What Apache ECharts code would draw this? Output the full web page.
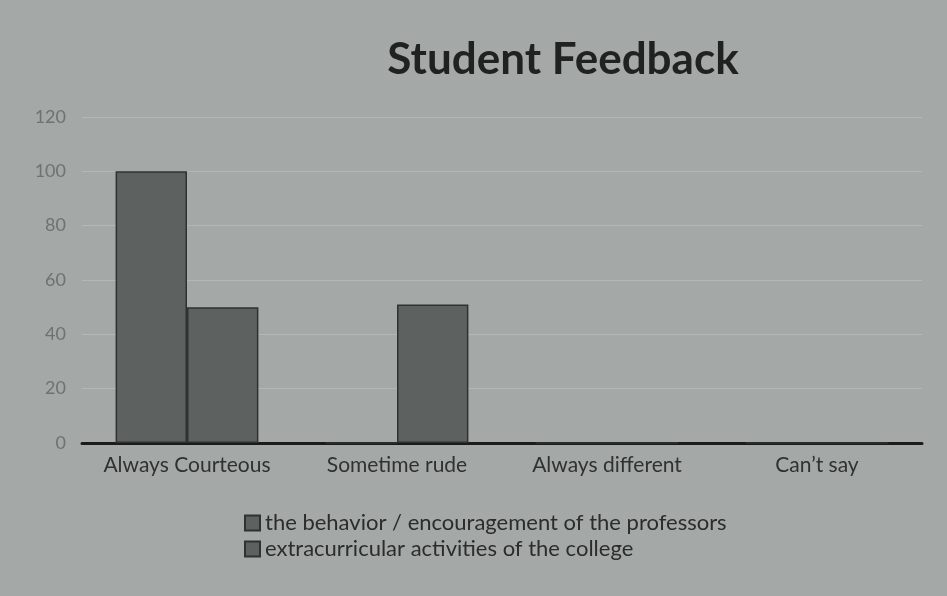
<!DOCTYPE html>
<html><head><meta charset="utf-8">
<script src="https://cdn.jsdelivr.net/npm/echarts@6/dist/echarts.min.js"></script>
<style>html,body{margin:0;padding:0;background:#a2a6a5}#c{width:947px;height:596px}</style>
</head><body><div id="c"></div>
<script>
const categories = ["Always Courteous", "Sometime rude", "Always different", "Can\u2019t say"];
const seriesNames = ["the behavior / encouragement of the professors", "extracurricular activities of the college"];
const professors = [100, 0, 0, 0];
const extracurricular = [50, 51, 0, 0];
const yTicks = [0, 20, 40, 60, 80, 100, 120];

const chart = echarts.init(document.getElementById('c'));
const barStyle = {color: '#5d6160', borderColor: '#2e3231', borderWidth: 1.5};
chart.setOption({
  backgroundColor: '#a4a8a7',
  animation: false,
  title: {text: 'Student Feedback', left: 558, top: 33, textAlign: 'center',
    textStyle: {fontFamily: 'Lato', fontWeight: 'bold', fontSize: 44, color: '#1f2221'}},
  grid: {left: 82, right: 25, top: 117, bottom: 153},
  legend: {orient: 'vertical', left: 239, top: 507, itemWidth: 15, itemHeight: 15, itemGap: 4,
    icon: 'rect',
    textStyle: {fontFamily: 'Lato', fontSize: 22, color: '#2a2d2c'},
    data: seriesNames},
  xAxis: {type: 'category', data: categories,
    axisLine: {lineStyle: {color: '#1a1c1c', width: 3}},
    axisTick: {show: false},
    axisLabel: {interval: 0, fontFamily: 'Lato', fontSize: 21, color: '#2f3231', margin: 12}},
  yAxis: {type: 'value', min: yTicks[0], max: yTicks[yTicks.length-1], interval: 20,
    axisLine: {show: false}, axisTick: {show: false},
    splitLine: {lineStyle: {color: '#b3b7b6', width: 1}},
    axisLabel: {fontFamily: 'Lato', fontSize: 18, color: '#6e7271', margin: 16}},
  series: [
    {name: seriesNames[0], type: 'bar', data: professors, barGap: '0%', barCategoryGap: '32%',
     itemStyle: barStyle},
    {name: seriesNames[1], type: 'bar', data: extracurricular,
     itemStyle: barStyle}
  ]
});
</script></body></html>
